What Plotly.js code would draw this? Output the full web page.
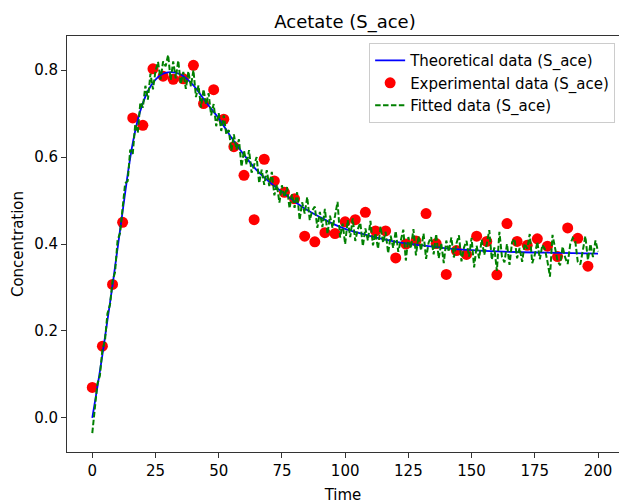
<!DOCTYPE html>
<html>
<head>
<meta charset="utf-8">
<script src="https://cdn.plot.ly/plotly-3.0.1.min.js"></script>
<style>
html,body{margin:0;padding:0;background:#fff;overflow:hidden;}
#chart{width:619px;height:504px;}
</style>
</head>
<body>
<div id="chart"></div>
<script>
// Theoretical (smooth) curve
const theoTime = [0,2,4,6,8,10,12,14,16,18,20,22,24,26,28,30,32,35,40,45,50,55,60,65,70,75,80,85,90,95,100,105,110,115,120,130,140,150,160,170,180,190,200];
const theoValues = [0.000,0.070,0.145,0.225,0.305,0.390,0.475,0.560,0.632,0.686,0.724,0.752,0.771,0.784,0.792,0.795,0.795,0.790,0.765,0.726,0.689,0.645,0.605,0.570,0.543,0.520,0.498,0.478,0.462,0.447,0.435,0.426,0.418,0.411,0.405,0.397,0.390,0.386,0.383,0.381,0.380,0.379,0.378];

// Experimental points
const expTime = [0,4,8,12,16,20,24,28,32,36,40,44,48,52,56,60,64,68,72,76,80,84,88,92,96,100,104,108,112,116,120,124,128,132,136,140,144,148,152,156,160,164,168,172,176,180,184,188,192,196];
const expValues = [0.070,0.165,0.307,0.450,0.690,0.673,0.803,0.786,0.779,0.780,0.811,0.723,0.755,0.687,0.624,0.558,0.456,0.595,0.545,0.519,0.504,0.418,0.405,0.426,0.424,0.451,0.456,0.473,0.430,0.430,0.368,0.400,0.407,0.470,0.401,0.330,0.385,0.376,0.418,0.406,0.329,0.447,0.406,0.397,0.412,0.395,0.371,0.437,0.413,0.349];

// Fitted (noisy) series, one value per time unit 0..200
const fittedValues = [
-0.035,0.023,0.078,0.097,0.157,0.177,0.240,0.260,0.315,0.335,
0.408,0.426,0.485,0.540,0.545,0.617,0.607,0.676,0.656,0.726,
0.714,0.764,0.732,0.792,0.756,0.798,0.819,0.778,0.820,0.809,
0.835,0.777,0.820,0.781,0.822,0.768,0.796,0.757,0.797,0.763,
0.800,0.738,0.765,0.714,0.756,0.721,0.747,0.696,0.722,0.671,
0.701,0.660,0.696,0.652,0.662,0.615,0.652,0.617,0.641,0.578,
0.615,0.583,0.616,0.564,0.582,0.600,0.540,0.571,0.536,0.570,
0.533,0.566,0.512,0.537,0.495,0.535,0.508,0.531,0.482,0.514,
0.483,0.519,0.455,0.496,0.470,0.508,0.455,0.477,0.486,0.437,
0.474,0.439,0.481,0.423,0.465,0.437,0.465,0.497,0.415,0.447,
0.400,0.455,0.416,0.459,0.407,0.434,0.449,0.395,0.436,0.408,
0.453,0.397,0.425,0.389,0.440,0.403,0.428,0.379,0.419,0.391,
0.430,0.382,0.408,0.433,0.362,0.416,0.390,0.434,0.374,0.418,
0.385,0.424,0.366,0.403,0.416,0.376,0.423,0.367,0.402,0.356,
0.408,0.382,0.415,0.369,0.401,0.420,0.360,0.392,0.407,0.371,
0.414,0.346,0.396,0.367,0.410,0.375,0.400,0.432,0.364,0.392,
0.338,0.428,0.371,0.358,0.400,0.352,0.404,0.412,0.367,0.391,
0.359,0.401,0.389,0.423,0.356,0.375,0.405,0.365,0.398,0.388,
0.360,0.325,0.421,0.389,0.361,0.351,0.394,0.369,0.354,0.399,
0.414,0.407,0.359,0.353,0.390,0.418,0.363,0.400,0.370,0.408,
0.383];
const fittedTime = fittedValues.map((_, i) => i);

const xTicks = [0,25,50,75,100,125,150,175,200];
const yTicks = [0.0,0.2,0.4,0.6,0.8];

const FONT = 'DejaVu Sans, sans-serif';

const traces = [
  {
    x: expTime, y: expValues, type: 'scatter', mode: 'markers',
    name: 'Experimental data (S_ace)', legendrank: 2,
    marker: {color: '#ff0000', size: 11, line: {width: 0}}
  },
  {
    x: theoTime, y: theoValues, type: 'scatter', mode: 'lines',
    name: 'Theoretical data (S_ace)', legendrank: 1,
    line: {color: '#0000ff', width: 1.8, shape: 'spline', smoothing: 0.8}
  },
  {
    x: fittedTime, y: fittedValues, type: 'scatter', mode: 'lines',
    name: 'Fitted data (S_ace)', legendrank: 3,
    line: {color: '#008000', width: 2, dash: '5.5px,2.4px'}
  }
];

const layout = {
  width: 619, height: 504,
  paper_bgcolor: '#fff', plot_bgcolor: '#fff',
  margin: {l: 67, r: 0, t: 36, b: 52, pad: 0},
  font: {family: FONT, size: 15, color: '#000'},
  title: {
    text: 'Acetate (S_ace)', font: {family: FONT, size: 18, color: '#000'},
    xref: 'paper', x: 0.5036, xanchor: 'center',
    yref: 'paper', y: 1, yanchor: 'bottom', pad: {b: 8}
  },
  showlegend: true,
  legend: {
    x: 0.993, xanchor: 'right', y: 0.983, yanchor: 'top',
    bgcolor: 'rgba(255,255,255,0.8)', bordercolor: '#cccccc', borderwidth: 1,
    font: {family: FONT, size: 15, color: '#000'},
    tracegroupgap: 0
  },
  xaxis: {
    range: [-10, 208.3], tickvals: xTicks, ticktext: xTicks.map(String),
    showgrid: false, zeroline: false,
    showline: true, linecolor: '#333', linewidth: 1, mirror: true,
    ticks: 'outside', ticklen: 5, tickwidth: 1, tickcolor: '#333',
    tickfont: {family: FONT, size: 15, color: '#000'},
    title: {text: 'Time', font: {family: FONT, size: 15, color: '#000'}, standoff: 10}
  },
  yaxis: {
    range: [-0.0785, 0.8785], tickvals: yTicks, ticktext: yTicks.map(v => v.toFixed(1)),
    showgrid: false, zeroline: false,
    showline: true, linecolor: '#333', linewidth: 1, mirror: false,
    ticks: 'outside', ticklen: 5, tickwidth: 1, tickcolor: '#333',
    tickfont: {family: FONT, size: 15, color: '#000'},
    title: {text: 'Concentration', font: {family: FONT, size: 15, color: '#000'}, standoff: 6}
  }
};

Plotly.newPlot('chart', traces, layout, {displayModeBar: false, staticPlot: true});
</script>
</body>
</html>
